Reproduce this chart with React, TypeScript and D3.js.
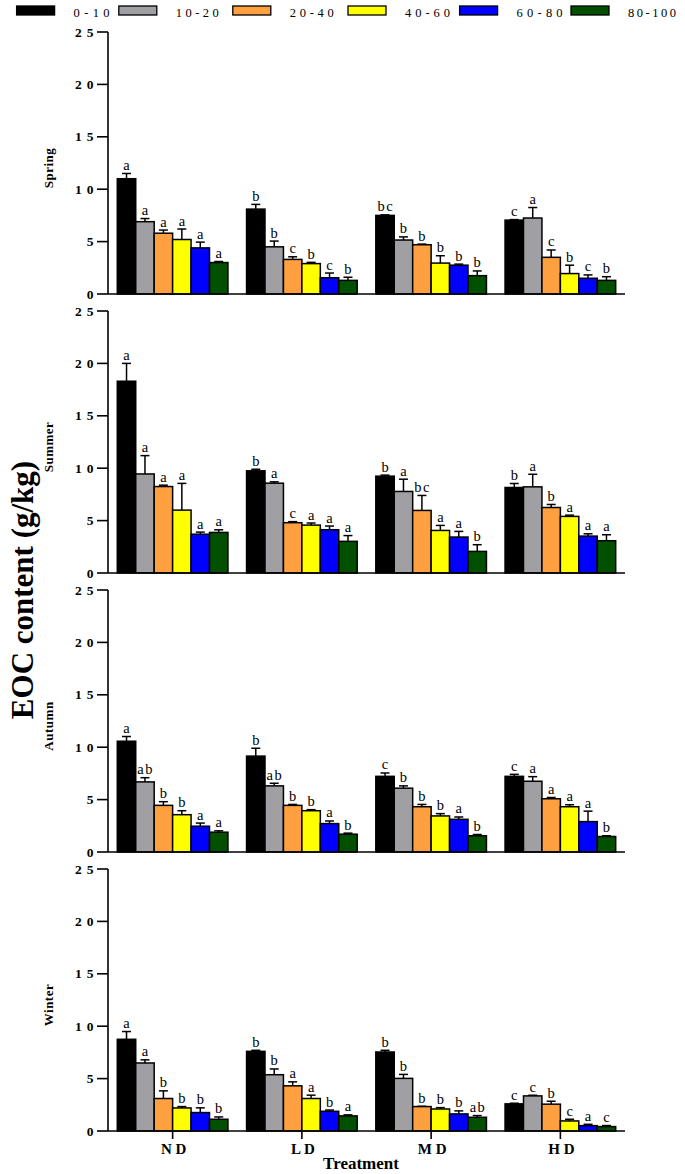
import React from "react";
import * as d3 from "d3";

const treatments = ["ND", "LD", "MD", "HD"];
const treatmentLabels = ["N D", "L D", "M D", "H D"];
const depths = ["0-10", "10-20", "20-40", "40-60", "60-80", "80-100"];
const colors = ["#000000", "#A0A0A4", "#FFA040", "#FFFF00", "#0000FF", "#005000"];
const seasons = ["Spring", "Summer", "Autumn", "Winter"];
const yTicks = [0, 5, 10, 15, 20, 25];

// values[season][treatment][depth]
const springValues = [
  [11.0, 6.9, 5.8, 5.2, 4.4, 3.0],
  [8.1, 4.5, 3.3, 2.9, 1.55, 1.3],
  [7.5, 5.15, 4.7, 2.95, 2.75, 1.75],
  [7.05, 7.25, 3.5, 1.95, 1.5, 1.3],
];
const springErrors = [
  [0.5, 0.3, 0.3, 1.0, 0.55, 0.1],
  [0.45, 0.55, 0.25, 0.12, 0.45, 0.3],
  [0.05, 0.3, 0.06, 0.7, 0.1, 0.45],
  [0.05, 1.0, 0.7, 0.8, 0.32, 0.35],
];
const springLetters = [
  ["a", "a", "a", "a", "a", "a"],
  ["b", "b", "c", "b", "c", "b"],
  ["bc", "b", "b", "b", "b", "b"],
  ["c", "a", "c", "b", "c", "b"],
];

const summerValues = [
  [18.3, 9.45, 8.25, 6.0, 3.7, 3.87],
  [9.75, 8.57, 4.8, 4.57, 4.13, 3.02],
  [9.24, 7.78, 5.97, 4.06, 3.43, 2.06],
  [8.16, 8.22, 6.25, 5.4, 3.52, 3.08],
];
const summerErrors = [
  [1.7, 1.75, 0.13, 2.55, 0.2, 0.25],
  [0.15, 0.13, 0.1, 0.2, 0.35, 0.55],
  [0.1, 1.17, 1.43, 0.48, 0.54, 0.64],
  [0.38, 1.2, 0.29, 0.12, 0.22, 0.57],
];
const summerLetters = [
  ["a", "a", "a", "a", "a", "a"],
  ["b", "a", "c", "a", "a", "a"],
  ["b", "a", "bc", "a", "a", "b"],
  ["b", "a", "b", "a", "a", "a"],
];

const autumnValues = [
  [10.57, 6.69, 4.45, 3.56, 2.46, 1.89],
  [9.15, 6.31, 4.45, 3.94, 2.71, 1.7],
  [7.22, 6.09, 4.32, 3.44, 3.12, 1.55],
  [7.22, 6.75, 5.08, 4.32, 2.9, 1.48],
];
const autumnErrors = [
  [0.45, 0.4, 0.35, 0.38, 0.3, 0.13],
  [0.75, 0.25, 0.09, 0.1, 0.25, 0.1],
  [0.32, 0.22, 0.22, 0.22, 0.22, 0.12],
  [0.19, 0.44, 0.12, 0.19, 1.0, 0.07],
];
const autumnLetters = [
  ["a", "ab", "b", "b", "a", "a"],
  ["b", "ab", "b", "b", "a", "b"],
  ["c", "b", "b", "b", "a", "b"],
  ["c", "a", "a", "a", "a", "b"],
];

const winterValues = [
  [8.75, 6.49, 3.1, 2.2, 1.76, 1.12],
  [7.6, 5.37, 4.31, 3.1, 1.88, 1.44],
  [7.54, 5.02, 2.33, 2.1, 1.63, 1.31],
  [2.59, 3.35, 2.56, 0.96, 0.51, 0.42],
];
const winterErrors = [
  [0.74, 0.3, 0.73, 0.13, 0.45, 0.22],
  [0.1, 0.55, 0.38, 0.32, 0.12, 0.1],
  [0.16, 0.38, 0.03, 0.13, 0.29, 0.16],
  [0.06, 0.06, 0.28, 0.16, 0.13, 0.1],
];
const winterLetters = [
  ["a", "a", "b", "b", "b", "b"],
  ["b", "b", "a", "a", "b", "a"],
  ["b", "b", "b", "b", "b", "ab"],
  ["c", "c", "b", "c", "a", "c"],
];

const allValues = [springValues, summerValues, autumnValues, winterValues];
const allErrors = [springErrors, summerErrors, autumnErrors, winterErrors];
const allLetters = [springLetters, summerLetters, autumnLetters, winterLetters];

const W = 685;
const H = 1174;
const FONT = "'Liberation Serif', 'Times New Roman', serif";
const axisX = 108;
const axisRight = 625;
const panelTop0 = 32;
const panelStep = 279;
const panelH = 262;

// legend layout (pixel positions of swatches and label widths)
const legendRectX = [16.6, 118.8, 232.8, 348, 459.6, 571];
const legendLabelWidths = [36, 43, 44, 45, 46, 48];

const x0 = d3.scaleBand<string>().domain(treatments).range([axisX, axisRight]).paddingInner(0.144).paddingOuter(0.072);
const x1 = d3.scaleBand<string>().domain(depths).range([0, x0.bandwidth()]).padding(0);

function Panel({ si }: { si: number }) {
  const top = panelTop0 + si * panelStep;
  const y = d3.scaleLinear().domain([0, 25]).range([top + panelH, top]);
  const vals = allValues[si];
  const errs = allErrors[si];
  const lets = allLetters[si];
  const isLast = si === seasons.length - 1;
  const capW = 9;
  return (
    <g>
      {treatments.map((t, ti) =>
        depths.map((dp, di) => {
          const v = vals[ti][di];
          const bx = (x0(t) as number) + (x1(dp) as number);
          return (
            <rect
              key={`b-${t}-${dp}`}
              x={bx}
              y={y(v)}
              width={x1.bandwidth()}
              height={y(0) - y(v)}
              fill={colors[di]}
              stroke="#000"
              strokeWidth={1.5}
            />
          );
        })
      )}
      {treatments.map((t, ti) =>
        depths.map((dp, di) => {
          const v = vals[ti][di];
          const e = errs[ti][di];
          const cx = (x0(t) as number) + (x1(dp) as number) + x1.bandwidth() / 2;
          const lab = lets[ti][di];
          return (
            <g key={`e-${t}-${dp}`}>
              <line x1={cx} x2={cx} y1={y(v)} y2={y(v + e)} stroke="#000" strokeWidth={1.5} />
              <line x1={cx - capW / 2} x2={cx + capW / 2} y1={y(v + e)} y2={y(v + e)} stroke="#000" strokeWidth={1.5} />
              <text
                x={cx + (lab.length > 1 ? 0.75 : 0)}
                y={y(v + e) - 3.5}
                textAnchor="middle"
                fontFamily={FONT}
                fontSize={14.5}
                letterSpacing={lab.length > 1 ? 1.5 : 0}
                fill="#000"
              >
                {lab}
              </text>
            </g>
          );
        })
      )}
      <line x1={axisX} x2={axisX} y1={y(25)} y2={y(0)} stroke="#000" strokeWidth={1.6} />
      {yTicks.map((tk) => (
        <g key={`yt-${tk}`}>
          <line x1={axisX - 11} x2={axisX} y1={y(tk)} y2={y(tk)} stroke="#000" strokeWidth={1.6} />
          <text
            x={98.5}
            y={y(tk) + 4.5}
            textAnchor="end"
            fontFamily={FONT}
            fontSize={13.5}
            fontWeight="bold"
            letterSpacing={5}
            fill="#000"
          >
            {String(tk)}
          </text>
        </g>
      ))}
      <line x1={axisX} x2={axisRight} y1={y(0)} y2={y(0)} stroke="#000" strokeWidth={1.6} />
      {isLast &&
        treatments.map((t, ti) => {
          const cx = (x0(t) as number) + x0.bandwidth() / 2;
          return (
            <g key={`xt-${t}`}>
              <line x1={cx} x2={cx} y1={y(0)} y2={y(0) + 8} stroke="#000" strokeWidth={1.6} />
              <text
                x={cx + 1}
                y={y(0) + 23}
                textAnchor="middle"
                fontFamily={FONT}
                fontSize={15}
                fontWeight="bold"
                fill="#000"
              >
                {treatmentLabels[ti]}
              </text>
            </g>
          );
        })}
      <text
        transform={`translate(53, ${top + panelH / 2 + 5}) rotate(-90)`}
        textAnchor="middle"
        fontFamily={FONT}
        fontSize={13}
        fontWeight="bold"
        letterSpacing={0.5}
        fill="#000"
      >
        {seasons[si]}
      </text>
    </g>
  );
}

export default function App() {
  return (
    <svg
      width={W}
      height={H}
      viewBox={`0 0 ${W} ${H}`}
      style={{ position: "absolute", left: 0, top: 0, background: "#fff" }}
    >
      <rect x={0} y={0} width={W} height={H} fill="#fff" />
      {depths.map((dp, i) => {
        const lx = legendRectX[i];
        return (
          <g key={`lg-${dp}`}>
            <rect x={lx} y={6} width={38} height={9} fill={colors[i]} stroke="#000" strokeWidth={1.3} />
            <text
              x={lx + 57}
              y={16.5}
              fontFamily={FONT}
              fontSize={12.5}
              textLength={legendLabelWidths[i]}
              lengthAdjust="spacing"
              fill="#000"
            >
              {dp}
            </text>
          </g>
        );
      })}
      {seasons.map((s, si) => (
        <Panel key={s} si={si} />
      ))}
      <text
        transform={`translate(33, 590) rotate(-90)`}
        textAnchor="middle"
        fontFamily={FONT}
        fontSize={31}
        fontWeight="bold"
        fill="#000"
      >
        EOC content (g/kg)
      </text>
      <text x={361} y={1169} textAnchor="middle" fontFamily={FONT} fontSize={17} fontWeight="bold" fill="#000">
        Treatment
      </text>
    </svg>
  );
}
